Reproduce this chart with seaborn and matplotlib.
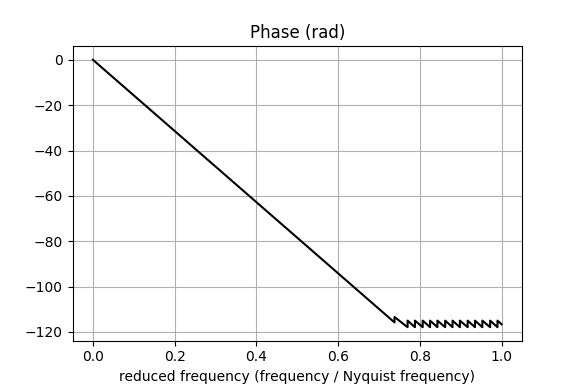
import pandas as pd
import numpy as np
import seaborn as sns
import matplotlib
matplotlib.use('Agg')
import matplotlib.pyplot as plt

# vertices (vertical jumps repeat the frequency)
freq = [0.0, 0.738, 0.738, 0.770,
        0.770, 0.788, 0.788, 0.807, 0.807, 0.825, 0.825, 0.843,
        0.843, 0.862, 0.862, 0.880, 0.880, 0.898, 0.898, 0.917,
        0.917, 0.935, 0.935, 0.953, 0.953, 0.972, 0.972, 0.990,
        0.990, 1.0]
phase = [0.0, -115.8, -113.4, -117.9,
         -115.0, -117.9, -115.0, -117.9, -115.0, -117.9, -115.0, -117.9,
         -115.0, -117.9, -115.0, -117.9, -115.0, -117.9, -115.0, -117.9,
         -115.0, -117.9, -115.0, -117.9, -115.0, -117.9, -115.0, -117.9,
         -115.0, -116.6]

df = pd.DataFrame({'freq': freq, 'phase': phase})

fig, ax = plt.subplots(figsize=(5.8, 3.87), dpi=100)
sns.lineplot(data=df, x='freq', y='phase', sort=False, estimator=None,
             color='black', linewidth=1.5, ax=ax)
ax.grid(True)
ax.set_title('Phase (rad)')
ax.set_xlabel('reduced frequency (frequency / Nyquist frequency)')
ax.set_ylabel('')
ax.set_yticks([0, -20, -40, -60, -80, -100, -120])
fig.subplots_adjust(left=0.125, right=0.9, top=0.88, bottom=0.12)
fig.savefig('out.png', dpi=100)
